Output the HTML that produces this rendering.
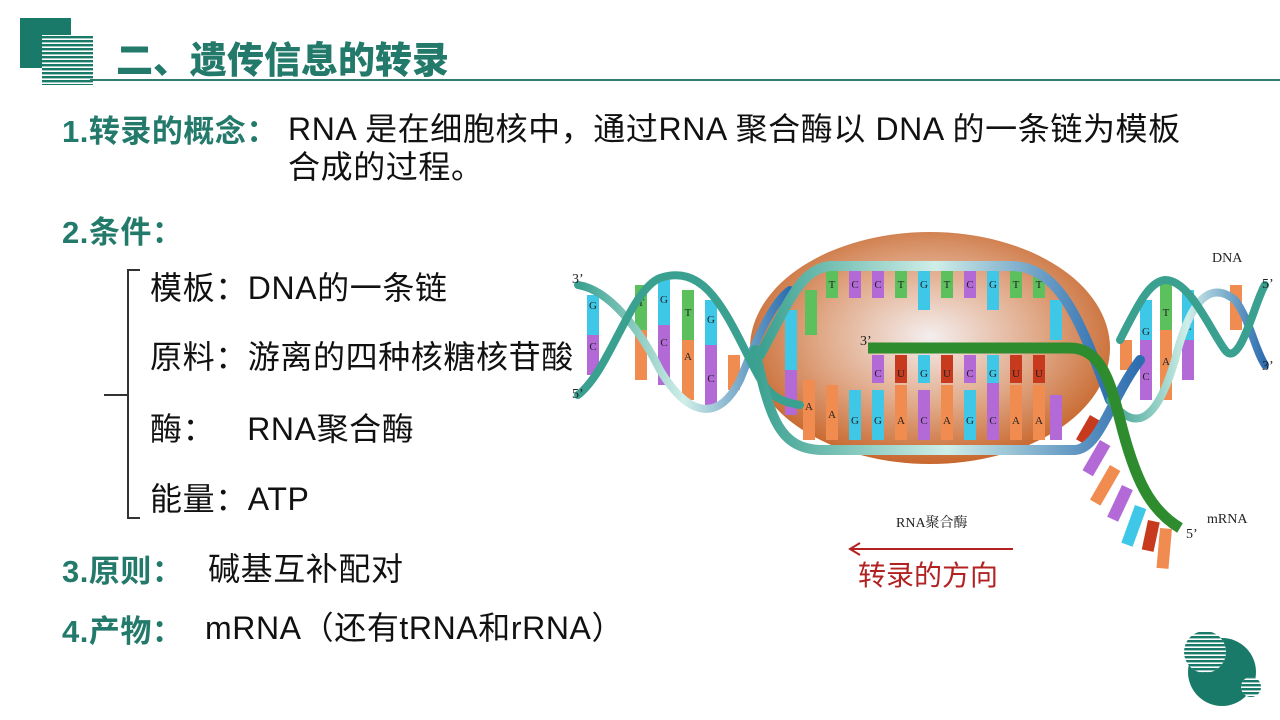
<!DOCTYPE html>
<html><head><meta charset="utf-8"><style>
body{margin:0;width:1280px;height:720px;background:#fff;position:relative;overflow:hidden;font-family:"Liberation Sans","Noto Sans CJK SC",sans-serif}
.t{position:absolute;white-space:nowrap}
.h{color:#237a6b;font-weight:bold;font-size:31px;letter-spacing:0.5px}
.b{color:#111;font-size:32px;letter-spacing:0.6px}
</style></head><body>
<svg width="1280" height="720" style="position:absolute;left:0;top:0">
<defs>
<pattern id="st" width="4" height="4" patternUnits="userSpaceOnUse"><rect width="4" height="2.4" fill="#1a7a6a"/></pattern>
<radialGradient id="eg" cx="0.5" cy="0.45" r="0.55"><stop offset="0" stop-color="#f4eeee"/><stop offset="0.55" stop-color="#e0a988"/><stop offset="1" stop-color="#c8682e"/></radialGradient>
<linearGradient id="rb" x1="0" x2="1"><stop offset="0" stop-color="#3aa090"/><stop offset="0.5" stop-color="#cfeee8"/><stop offset="1" stop-color="#2c6cb0"/></linearGradient>
</defs>
<rect x="20" y="18" width="51" height="50" fill="#1a7a6a"/>
<rect x="42" y="35" width="51" height="50" fill="#fff"/>
<rect x="42" y="35" width="51" height="50" fill="url(#st)"/>
<line x1="90" y1="80" x2="1280" y2="80" stroke="#2e7d70" stroke-width="2"/>
<path d="M140 270 H128 V395 H104 M128 395 V518 H140" fill="none" stroke="#333" stroke-width="2"/>
<ellipse cx="930" cy="348" rx="180" ry="116" fill="url(#eg)"/>
<line x1="941" y1="465" x2="941" y2="480" stroke="#fff"/>
<g font-family="Liberation Serif" font-size="11" text-anchor="middle">
<rect x="587" y="295" width="12" height="40" fill="#3fc7e8"/><rect x="587" y="335" width="12" height="40" fill="#b36ad6"/>
<rect x="635" y="285" width="12" height="45" fill="#5cc05c"/><rect x="635" y="330" width="12" height="50" fill="#f08c50"/>
<rect x="658" y="280" width="12" height="45" fill="#3fc7e8"/><rect x="658" y="325" width="12" height="60" fill="#b36ad6"/>
<rect x="682" y="290" width="12" height="50" fill="#5cc05c"/><rect x="682" y="340" width="12" height="60" fill="#f08c50"/>
<rect x="705" y="300" width="12" height="45" fill="#3fc7e8"/><rect x="705" y="345" width="12" height="60" fill="#b36ad6"/>
<rect x="728" y="355" width="12" height="35" fill="#f08c50"/>
<rect x="805" y="290" width="12" height="45" fill="#5cc05c"/>
<rect x="785" y="310" width="12" height="60" fill="#3fc7e8"/><rect x="785" y="370" width="12" height="45" fill="#b36ad6"/>
<g>
<rect x="826" y="270" width="12" height="28" fill="#5cc05c"/><rect x="849" y="270" width="12" height="28" fill="#b36ad6"/>
<rect x="872" y="270" width="12" height="28" fill="#b36ad6"/><rect x="895" y="270" width="12" height="28" fill="#5cc05c"/>
<rect x="918" y="270" width="12" height="40" fill="#3fc7e8"/><rect x="941" y="270" width="12" height="28" fill="#5cc05c"/>
<rect x="964" y="270" width="12" height="28" fill="#b36ad6"/><rect x="987" y="270" width="12" height="40" fill="#3fc7e8"/>
<rect x="1010" y="270" width="12" height="28" fill="#5cc05c"/><rect x="1033" y="270" width="12" height="28" fill="#5cc05c"/>
<rect x="1050" y="300" width="12" height="40" fill="#3fc7e8"/>
</g>
<rect x="803" y="380" width="12" height="60" fill="#f08c50"/><rect x="826" y="385" width="12" height="55" fill="#f08c50"/>
<rect x="849" y="390" width="12" height="50" fill="#3fc7e8"/><rect x="872" y="390" width="12" height="50" fill="#3fc7e8"/>
<rect x="895" y="385" width="12" height="55" fill="#f08c50"/><rect x="918" y="390" width="12" height="50" fill="#b36ad6"/>
<rect x="941" y="385" width="12" height="55" fill="#f08c50"/><rect x="964" y="390" width="12" height="50" fill="#3fc7e8"/>
<rect x="987" y="380" width="12" height="60" fill="#b36ad6"/><rect x="1010" y="385" width="12" height="55" fill="#f08c50"/>
<rect x="1033" y="385" width="12" height="55" fill="#f08c50"/><rect x="1050" y="395" width="12" height="45" fill="#b36ad6"/>
<rect x="872" y="355" width="12" height="28" fill="#b36ad6"/><rect x="895" y="355" width="12" height="28" fill="#c83a1e"/>
<rect x="918" y="355" width="12" height="28" fill="#3fc7e8"/><rect x="941" y="355" width="12" height="28" fill="#c83a1e"/>
<rect x="964" y="355" width="12" height="28" fill="#b36ad6"/><rect x="987" y="355" width="12" height="28" fill="#3fc7e8"/>
<rect x="1010" y="355" width="12" height="28" fill="#c83a1e"/><rect x="1033" y="355" width="12" height="28" fill="#c83a1e"/>
<rect x="1140" y="300" width="12" height="40" fill="#3fc7e8"/><rect x="1140" y="340" width="12" height="60" fill="#b36ad6"/>
<rect x="1160" y="280" width="12" height="50" fill="#5cc05c"/><rect x="1160" y="330" width="12" height="70" fill="#f08c50"/>
<rect x="1182" y="290" width="12" height="50" fill="#3fc7e8"/><rect x="1182" y="340" width="12" height="40" fill="#b36ad6"/>
<rect x="1230" y="285" width="12" height="45" fill="#f08c50"/><rect x="1120" y="340" width="12" height="30" fill="#f08c50"/>
<g transform="translate(1090,415) rotate(30)"><rect x="0" y="0" width="12" height="28" fill="#c83a1e"/></g>
<g transform="translate(1100,440) rotate(30)"><rect x="0" y="0" width="12" height="35" fill="#b36ad6"/></g>
<g transform="translate(1110,465) rotate(30)"><rect x="0" y="0" width="12" height="40" fill="#f08c50"/></g>
<g transform="translate(1122,485) rotate(25)"><rect x="0" y="0" width="12" height="35" fill="#b36ad6"/></g>
<g transform="translate(1135,505) rotate(20)"><rect x="0" y="0" width="12" height="40" fill="#3fc7e8"/></g>
<g transform="translate(1148,520) rotate(12)"><rect x="0" y="0" width="12" height="30" fill="#c83a1e"/></g>
<g transform="translate(1160,528) rotate(5)"><rect x="0" y="0" width="12" height="40" fill="#f08c50"/></g>
<g fill="#222">
<text x="832" y="288">T</text><text x="855" y="288">C</text><text x="878" y="288">C</text><text x="901" y="288">T</text><text x="924" y="288">G</text><text x="947" y="288">T</text><text x="970" y="288">C</text><text x="993" y="288">G</text><text x="1016" y="288">T</text><text x="1039" y="288">T</text>
<text x="878" y="377">C</text><text x="901" y="377">U</text><text x="924" y="377">G</text><text x="947" y="377">U</text><text x="970" y="377">C</text><text x="993" y="377">G</text><text x="1016" y="377">U</text><text x="1039" y="377">U</text>
<text x="809" y="410">A</text><text x="832" y="418">A</text><text x="855" y="424">G</text><text x="878" y="424">G</text><text x="901" y="424">A</text><text x="924" y="424">C</text><text x="947" y="424">A</text><text x="970" y="424">G</text><text x="993" y="424">C</text><text x="1016" y="424">A</text><text x="1039" y="424">A</text>
<text x="593" y="309">G</text><text x="593" y="350">C</text><text x="641" y="306">T</text><text x="664" y="303">G</text><text x="664" y="346">C</text><text x="688" y="316">T</text><text x="688" y="360">A</text><text x="711" y="323">G</text><text x="711" y="382">C</text>
<text x="1166" y="316">T</text><text x="1166" y="365">A</text><text x="1146" y="335">G</text><text x="1146" y="380">C</text><text x="1188" y="330">C</text>
</g>
</g>
<g fill="none" stroke-linecap="round">
<path d="M578 285 C610 290,640 330,660 370 C690 420,720 420,740 380 C760 330,775 300,790 290" stroke="url(#rb)" stroke-width="8"/>
<path d="M578 395 C610 370,630 290,660 278 C700 265,720 300,745 350 C765 390,770 400,800 405" stroke="#3aa090" stroke-width="8"/>
<path d="M760 355 C790 300,800 270,830 266 H1010 C1060 266,1080 320,1110 400" stroke="url(#rb)" stroke-width="10"/>
<path d="M755 350 C770 420,780 448,820 450 H1075 C1100 448,1110 400,1140 360" stroke="url(#rb)" stroke-width="10"/>
<path d="M1110 400 C1140 440,1160 410,1175 360 C1190 300,1210 280,1235 300 C1250 320,1255 350,1265 365" stroke="url(#rb)" stroke-width="8"/>
<path d="M1120 340 C1140 300,1150 282,1165 280 C1190 280,1210 330,1225 350 C1240 370,1255 300,1265 285" stroke="#3aa090" stroke-width="8"/>
</g>
<path d="M868 348 H1070 C1100 348,1110 380,1120 420 C1135 480,1150 510,1180 528" fill="none" stroke="#2e8b2e" stroke-width="11"/>
<line x1="852" y1="549" x2="1013" y2="549" stroke="#b22222" stroke-width="2"/>
<path d="M860 543 L850 549 L860 555" fill="none" stroke="#b22222" stroke-width="2"/>
<g font-family="Liberation Serif" font-size="14" fill="#222">
<text x="572" y="283">3’</text><text x="572" y="398">5’</text><text x="860" y="345">3’</text>
<text x="1212" y="262">DNA</text><text x="1262" y="288">5’</text><text x="1262" y="370">3’</text>
<text x="1207" y="523">mRNA</text><text x="1186" y="538">5’</text>
<text x="896" y="527" font-family="Liberation Serif,'Noto Serif CJK SC',serif">RNA聚合酶</text>
</g>
<text x="858" y="585" font-size="28" fill="#b22222" font-family="Noto Sans CJK SC,sans-serif">转录的方向</text>
<circle cx="1222" cy="672" r="34" fill="#1a7a6a"/>
<circle cx="1205" cy="652" r="21" fill="#fff"/><circle cx="1205" cy="652" r="21" fill="url(#st)"/>
<circle cx="1251" cy="687" r="10" fill="#fff"/><circle cx="1251" cy="687" r="10" fill="url(#st)"/>
</svg>
<div class="t" style="left:116px;top:30px;font-size:37px;font-weight:900;color:#237a6b">二、遗传信息的转录</div>
<div class="t h" style="left:62px;top:106px">1.转录的概念：</div>
<div class="t b" style="left:288px;top:104px">RNA 是在细胞核中，通过RNA 聚合酶以 DNA 的一条链为模板</div>
<div class="t b" style="left:288px;top:142px">合成的过程。</div>
<div class="t h" style="left:62px;top:207px">2.条件：</div>
<div class="t b" style="left:150px;top:263px">模板：DNA的一条链</div>
<div class="t b" style="left:150px;top:332px">原料：游离的四种核糖核苷酸</div>
<div class="t b" style="left:150px;top:404px">酶：<span style="display:inline-block;width:32px"></span>RNA聚合酶</div>
<div class="t b" style="left:150px;top:474px">能量：ATP</div>
<div class="t h" style="left:62px;top:546px">3.原则：</div>
<div class="t b" style="left:208px;top:544px">碱基互补配对</div>
<div class="t h" style="left:62px;top:606px">4.产物：</div>
<div class="t b" style="left:205px;top:603px">mRNA（还有tRNA和rRNA）</div>
</body></html>
